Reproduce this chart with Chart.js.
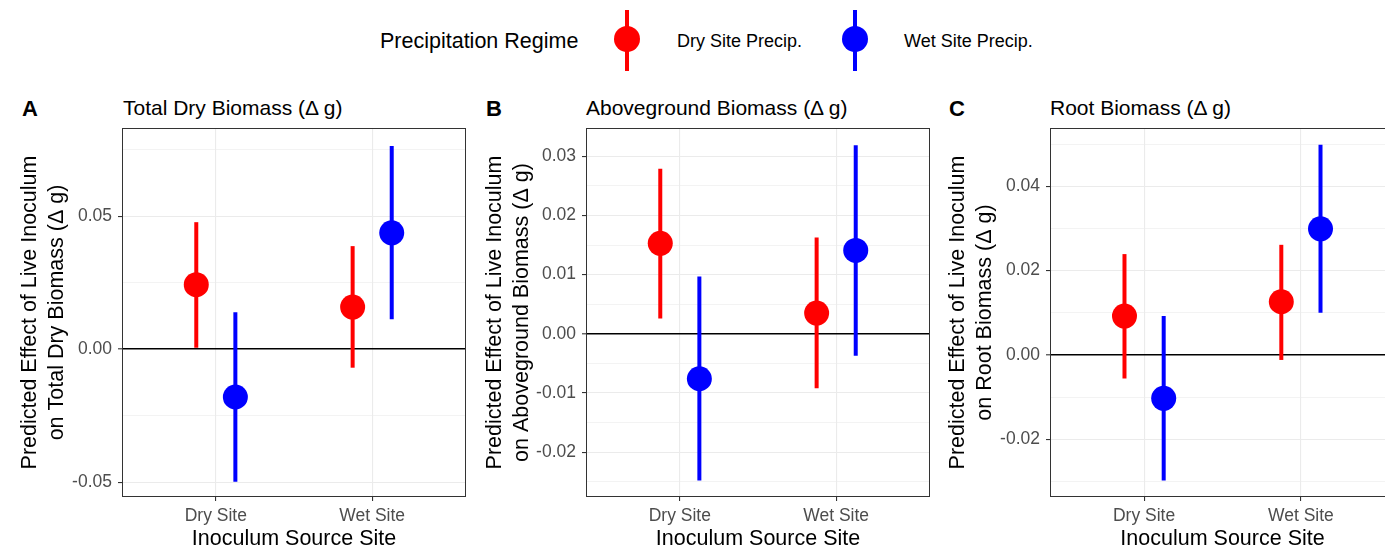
<!DOCTYPE html>
<html>
<head>
<meta charset="utf-8">
<script src="https://cdn.jsdelivr.net/npm/chart.js@4/dist/chart.umd.min.js"></script>
<style>
  html, body { margin: 0; padding: 0; background: #fff; }
  body { width: 1385px; height: 550px; overflow: hidden; position: relative;
         font-family: "Liberation Sans", Arial, Helvetica, sans-serif; }
  .abs { position: absolute; white-space: nowrap; line-height: 1; color: #000; }
  .panel { position: absolute; top: 90px; height: 460px; }
  .letter { font-weight: bold; font-size: 22px; }
  .subtitle { font-size: 21px; }
  .bar { position: absolute; width: 4px; }
  .dot { position: absolute; width: 26px; height: 26px; border-radius: 50%; }
</style>
</head>
<body>

<!-- legend -->
<div class="abs" style="left:380px; top:31px; font-size:21.5px;">Precipitation Regime</div>
<div class="bar" style="left:625px; top:10px; height:61px; background:#ff0000;"></div>
<div class="dot" style="left:614px; top:26px; background:#ff0000;"></div>
<div class="abs" style="left:677px; top:32px; font-size:18px;">Dry Site Precip.</div>
<div class="bar" style="left:853px; top:10px; height:61px; background:#0000ff;"></div>
<div class="dot" style="left:842px; top:26px; background:#0000ff;"></div>
<div class="abs" style="left:904px; top:32px; font-size:18px;">Wet Site Precip.</div>

<!-- panel headings -->
<div class="abs letter" style="left:22px; top:98px;">A</div>
<div class="abs subtitle" style="left:123px; top:97px;">Total Dry Biomass (Δ g)</div>
<div class="abs letter" style="left:486px; top:98px;">B</div>
<div class="abs subtitle" style="left:586px; top:97px;">Aboveground Biomass (Δ g)</div>
<div class="abs letter" style="left:949px; top:98px;">C</div>
<div class="abs subtitle" style="left:1050px; top:97px;">Root Biomass (Δ g)</div>

<div class="panel" style="left:0px; width:470px;"><canvas id="chartA"></canvas></div>
<div class="panel" style="left:470px; width:464px;"><canvas id="chartB"></canvas></div>
<div class="panel" style="left:935px; width:464px;"><canvas id="chartC"></canvas></div>

<script>
// ---- data ----
const sites = ['Dry Site', 'Wet Site'];

// A: total dry biomass
const totalDry_dryPrecip   = [0.0242, 0.0158];
const totalDry_dryPrecipLo = [0.0005, -0.0070];
const totalDry_dryPrecipHi = [0.0477, 0.0387];
const totalDry_wetPrecip   = [-0.0180, 0.0437];
const totalDry_wetPrecipLo = [-0.0499, 0.0112];
const totalDry_wetPrecipHi = [0.0138, 0.0763];
const totalDryTicks = [-0.05, 0, 0.05];
const totalDryMinor = [-0.025, 0.025, 0.075];
const totalDryRange = [-0.0556, 0.0831];

// B: aboveground biomass
const above_dryPrecip   = [0.0153, 0.0035];
const above_dryPrecipLo = [0.0026, -0.0092];
const above_dryPrecipHi = [0.0279, 0.0163];
const above_wetPrecip   = [-0.0076, 0.0141];
const above_wetPrecipLo = [-0.0248, -0.0037];
const above_wetPrecipHi = [0.0097, 0.0319];
const aboveTicks = [-0.02, -0.01, 0, 0.01, 0.02, 0.03];
const aboveMinor = [-0.025, -0.015, -0.005, 0.005, 0.015, 0.025];
const aboveRange = [-0.0276, 0.0348];

// C: root biomass
const root_dryPrecip   = [0.0092, 0.0126];
const root_dryPrecipLo = [-0.0056, -0.0012];
const root_dryPrecipHi = [0.0239, 0.0261];
const root_wetPrecip   = [-0.0103, 0.0299];
const root_wetPrecipLo = [-0.0298, 0.0100];
const root_wetPrecipHi = [0.0092, 0.0498];
const rootTicks = [-0.02, 0, 0.02, 0.04];
const rootMinor = [-0.03, -0.01, 0.01, 0.03, 0.05];
const rootRange = [-0.0337, 0.0538];

// ---- styling ----
const RED = '#ff0000';
const BLUE = '#0000ff';
const DODGE = 0.125;
const FONT = '"Liberation Sans", Arial, Helvetica, sans-serif';
Chart.defaults.font.family = FONT;
Chart.defaults.color = '#4d4d4d';

// vertical interval lines behind the points
const errorBars = {
  id: 'errorBars',
  beforeDatasetsDraw(chart) {
    const { ctx, scales: { x, y } } = chart;
    ctx.save();
    ctx.beginPath();
    ctx.rect(chart.chartArea.left, chart.chartArea.top, chart.chartArea.width, chart.chartArea.height);
    ctx.clip();
    chart.data.datasets.forEach(ds => {
      ctx.strokeStyle = ds.backgroundColor;
      ctx.lineWidth = 4;
      ds.data.forEach(p => {
        const px = x.getPixelForValue(p.x);
        ctx.beginPath();
        ctx.moveTo(px, y.getPixelForValue(p.lo));
        ctx.lineTo(px, y.getPixelForValue(p.hi));
        ctx.stroke();
      });
    });
    ctx.restore();
  }
};

// theme_bw panel border
const panelBorder = {
  id: 'panelBorder',
  afterDraw(chart) {
    const { ctx, chartArea: a } = chart;
    ctx.save();
    ctx.strokeStyle = '#333333';
    ctx.lineWidth = 1;
    ctx.strokeRect(a.left + 0.5, a.top + 0.5, a.width - 1, a.height - 1);
    ctx.restore();
  }
};

function points(mid, lo, hi, shift) {
  return mid.map((v, i) => ({ x: i + 1 + shift, y: v, lo: lo[i], hi: hi[i] }));
}

function isIn(list, v) {
  return list.some(m => Math.abs(m - v) < 1e-9);
}

function makePanel(id, dry, wet, major, minor, range, yTitle, yAxisWidth, titlePad) {
  const allTicks = major.concat(minor).sort((a, b) => a - b);
  return new Chart(document.getElementById(id), {
    type: 'scatter',
    data: {
      datasets: [
        { label: 'Dry Site Precip.', data: points(dry[0], dry[1], dry[2], -DODGE),
          backgroundColor: RED, borderWidth: 0, pointRadius: 12.5 },
        { label: 'Wet Site Precip.', data: points(wet[0], wet[1], wet[2], DODGE),
          backgroundColor: BLUE, borderWidth: 0, pointRadius: 12.5 }
      ]
    },
    options: {
      responsive: true,
      maintainAspectRatio: false,
      animation: false,
      layout: { autoPadding: false, padding: { top: 38, right: 4, left: 0, bottom: 0 } },
      plugins: { legend: { display: false }, tooltip: { enabled: false } },
      scales: {
        x: {
          type: 'linear', min: 0.4, max: 2.6,
          afterBuildTicks: s => { s.ticks = sites.map((_, i) => ({ value: i + 1 })); },
          afterFit: s => { s.height = 53; s.paddingLeft = 0; s.paddingRight = 0; },
          border: { display: false },
          grid: { color: '#ebebeb', lineWidth: 1.1, tickLength: 4, tickColor: '#333333', tickWidth: 1.1 },
          ticks: { autoSkip: false, maxRotation: 0, padding: 5, color: '#4d4d4d',
                   font: { size: 17.5 }, callback: (v, i) => sites[i] },
          title: { display: true, text: 'Inoculum Source Site', color: '#000',
                   font: { size: 21.5, lineHeight: 1 }, padding: 0 }
        },
        y: {
          min: range[0], max: range[1],
          afterBuildTicks: s => { s.ticks = allTicks.map(v => ({ value: v })); },
          afterFit: s => { s.width = yAxisWidth; s.paddingTop = 0; s.paddingBottom = 0; },
          border: { display: false },
          grid: {
            color: c => Math.abs(c.tick.value) < 1e-9 ? '#000000' : '#ebebeb',
            lineWidth: c => Math.abs(c.tick.value) < 1e-9 ? 1.6 : (isIn(major, c.tick.value) ? 1.1 : 0.6),
            tickLength: 4,
            tickColor: c => isIn(major, c.tick.value) ? '#333333' : 'rgba(0,0,0,0)',
            tickWidth: 1.1
          },
          ticks: { autoSkip: false, padding: 6, color: '#4d4d4d', font: { size: 17.5 },
                   callback: v => isIn(major, v) ? v.toFixed(2) : '' },
          title: { display: true, text: yTitle, color: '#000',
                   font: { size: 21.5, lineHeight: 1.256 }, padding: { top: titlePad, bottom: 0 } }
        }
      }
    },
    plugins: [errorBars, panelBorder]
  });
}

makePanel('chartA',
  [totalDry_dryPrecip, totalDry_dryPrecipLo, totalDry_dryPrecipHi],
  [totalDry_wetPrecip, totalDry_wetPrecipLo, totalDry_wetPrecipHi],
  totalDryTicks, totalDryMinor, totalDryRange,
  ['Predicted Effect of Live Inoculum', 'on Total Dry Biomass (Δ g)'], 122, 17);

makePanel('chartB',
  [above_dryPrecip, above_dryPrecipLo, above_dryPrecipHi],
  [above_wetPrecip, above_wetPrecipLo, above_wetPrecipHi],
  aboveTicks, aboveMinor, aboveRange,
  ['Predicted Effect of Live Inoculum', 'on Aboveground Biomass (Δ g)'], 116, 12);

makePanel('chartC',
  [root_dryPrecip, root_dryPrecipLo, root_dryPrecipHi],
  [root_wetPrecip, root_wetPrecipLo, root_wetPrecipHi],
  rootTicks, rootMinor, rootRange,
  ['Predicted Effect of Live Inoculum', 'on Root Biomass (Δ g)'], 115, 10);
</script>
</body>
</html>
